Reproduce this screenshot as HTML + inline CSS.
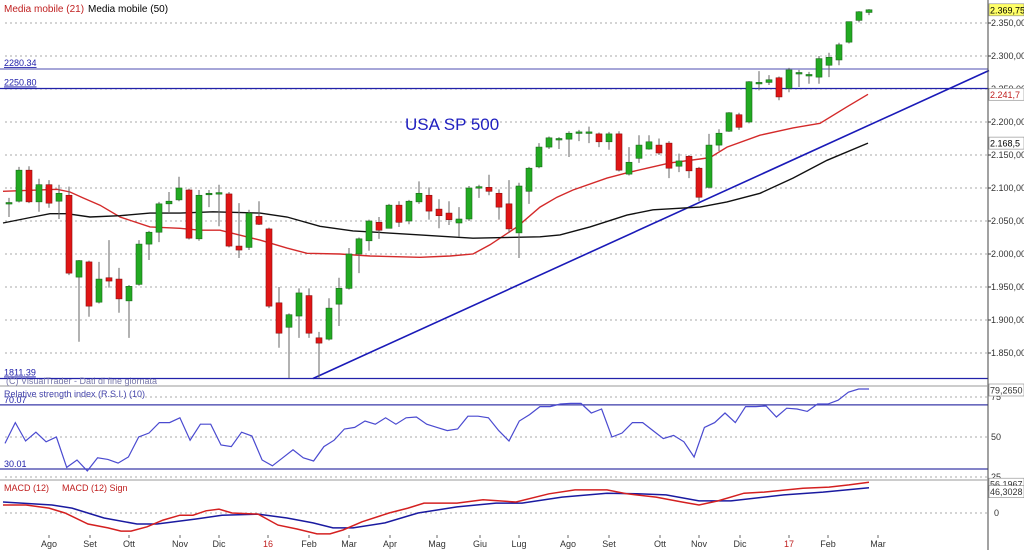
<!DOCTYPE html>
<html><head><meta charset="utf-8"><title>USA SP 500</title>
<style>
html,body{margin:0;padding:0;background:#fff;}
svg{display:block;font-family:"Liberation Sans",sans-serif;}
</style></head>
<body>
<svg id="chart" width="1024" height="550" viewBox="0 0 1024 550" xmlns="http://www.w3.org/2000/svg">
<rect x="0" y="0" width="1024" height="550" fill="#fff"/>
<g id="grid"></g>
<g id="levels"></g>
<g id="ma"></g>
<g id="candles"></g>
<g id="rsi"></g>
<g id="macd"></g>
<g id="axes"></g>
<text x="4" y="12" font-size="10" fill="#c02020">Media mobile (21)</text>
<text x="88" y="12" font-size="10" fill="#000">Media mobile (50)</text>
<text x="405" y="130" font-size="17" fill="#2020c0">USA SP 500</text>
<text x="6" y="384" font-size="9" fill="#7777aa">(C) VisualTrader - Dati di fine giornata</text>
<text x="4" y="397" font-size="9" fill="#4444aa">Relative strength index (R.S.I.) (10)</text>
<text x="4" y="491" font-size="9" fill="#c02020">MACD (12)</text>
<text x="62" y="491" font-size="9" fill="#c02020">MACD (12) Sign</text>
</svg>
<script>
const opens =[2077,2080,2127,2079,2105,2080,2089,1965,1988,1927,1964,1962,1929,1954,2015,2033,2076,2082,2097,2023,2091,2093,2091,2012,2010,2057,2038,1926,1889,1906,1937,1873,1871,1924,1948,2000,2020,2048,2039,2074,2050,2079,2089,2068,2062,2047,2053,2101,2101,2092,2076,2032,2095,2132,2162,2174,2174,2184,2184,2182,2170,2182,2121,2145,2159,2165,2168,2133,2148,2130,2101,2165,2186,2211,2200,2259,2260,2267,2251,2274,2271,2268,2286,2294,2321,2354,2366];
const highs =[2085,2132,2133,2114,2112,2105,2102,1991,1990,1988,2021,1979,1953,2021,2035,2079,2094,2117,2099,2097,2097,2105,2094,2077,2067,2080,2040,1950,1910,1948,1948,1882,1933,1964,2009,2025,2052,2056,2076,2080,2082,2110,2101,2083,2080,2071,2103,2105,2120,2098,2112,2108,2132,2168,2178,2177,2186,2188,2193,2184,2185,2186,2162,2180,2180,2175,2171,2152,2150,2132,2182,2189,2215,2214,2262,2277,2271,2269,2282,2279,2276,2300,2305,2320,2352,2368,2371];
const lows  =[2056,2078,2077,2064,2070,2053,1968,1867,1905,1925,1949,1911,1873,1952,1991,2018,2062,2080,2022,2020,2071,2042,2010,1994,2006,2044,1918,1858,1812,1873,1873,1812,1869,1891,1946,1971,2005,2023,2059,2041,2045,2076,2052,2039,2044,2026,2050,2085,2089,2052,2032,1994,2076,2130,2159,2159,2147,2171,2168,2162,2158,2125,2119,2138,2158,2150,2115,2124,2115,2080,2099,2156,2185,2188,2198,2248,2256,2233,2245,2253,2258,2258,2268,2286,2319,2351,2362];
const closes=[2078,2127,2079,2105,2077,2092,1971,1990,1921,1962,1959,1932,1951,2015,2033,2076,2080,2100,2024,2089,2092,2093,2012,2006,2062,2045,1921,1880,1908,1941,1880,1865,1918,1948,2000,2023,2050,2036,2074,2048,2080,2092,2065,2058,2052,2053,2100,2102,2095,2071,2038,2103,2130,2162,2176,2175,2183,2185,2185,2170,2182,2127,2139,2165,2170,2153,2130,2141,2126,2086,2165,2183,2214,2192,2261,2260,2264,2238,2279,2275,2272,2296,2298,2317,2352,2367,2370];
const ma21Idx=[-0.6,4.8,6.1,7.4,9.1,11.1,14.1,17.1,19.1,21.1,25.1,27.8,29.8,33.1,36.1,41.1,44.1,46.4,48.1,50.8,53.1,54.8,56.4,59.8,61.8,63.8,66.1,69.1,70.1,71.8,75.1,78.4,81.1,83.8,85.9];
const ma21Val=[2095,2098,2094,2085,2074,2056,2041,2039,2036,2036,2021,2009,2001,2000,1997,1995,1997,2000,2014,2041,2071,2086,2097,2115,2123,2130,2138,2144,2146,2162,2180,2191,2198,2223,2242];
const ma50Idx=[-0.6,2.4,4.1,5.8,8.1,11.1,14.1,17.1,20.4,25.1,27.8,31.1,34.4,37.8,41.1,44.1,46.4,53.1,55.1,58.1,61.8,64.4,69.1,71.8,75.1,78.4,81.8,85.9];
const ma50Val=[2047,2056,2061,2061,2056,2058,2062,2062,2064,2062,2056,2042,2035,2032,2029,2026,2024,2026,2029,2041,2059,2067,2071,2079,2092,2115,2142,2168];
const rsiVals=[46,59,47.5,53,47,50,31,35.6,28.8,37,36,33.7,37.5,50,52.5,59,59,62,48,58,58,45,44,53,50.6,35.6,32,37,42,37,35,44,48,55,56,60,58,62,58,62,62.5,58,56,54,55,63,63,62,54,47.5,60,64,69,69,70.6,71,71,65,67.5,50,52.5,59,59,54,49,51,47,37.5,56,59,65,59,69,69,69.4,62.5,68,67.5,66,70.6,70.6,73,78,80,80];
const macdIdx=[-0.6,1.7,4,5.6,7.9,9.9,11.2,12.2,13.8,15.4,17.1,18.4,19.7,21,22.3,24.9,26.9,28.8,30.8,32.1,33.4,35.3,38,39.9,41.5,44.8,47.4,50.7,54,56.6,59.8,61.8,64.7,67.3,69,70.9,73.5,75.5,79.4,82,84,86];
const macdVals=[14.5,14.5,9,0,-20,-27,-33,-33,-25,-13,-4,-4,4,7,0,-2,-22,-29,-38,-38,-31,-16,0,9,18,18,24,20,35,42,42,35,29,20,14.5,22,36,38,45,47,51,56];
const signIdx=[-0.6,4.3,6.3,9.5,12.8,14.8,18.7,21.3,24.9,27.8,30.4,32.4,34.4,37.6,40.9,44.8,48.7,51.3,55.3,59.8,62.8,65.7,69,72.2,77.5,81.4,86];
const signVals=[20,14.5,9,-9,-20,-20,-11,-4,-2,-9,-18,-27,-27,-18,0,11,18,18,29,36,35,33,22,22,33,38,46];
const priceTicks=[1850,1900,1950,2000,2050,2100,2150,2200,2250,2300,2350];
const priceTickLabels=["1.850,00","1.900,00","1.950,00","2.000,00","2.050,00","2.100,00","2.150,00","2.200,00","2.250,00","2.300,00","2.350,00"];
const levelVals=[2280.34,2250.80,1811.39];
const levelLabels=["2280.34","2250.80","1811.39"];
const trendIdx=[30.4,98];
const trendVals=[1811.39,2278];
const rsiTicks=[25,50,75];
const rsiBands=[70.07,30.01];
const months=["Ago","Set","Ott","Nov","Dic","16","Feb","Mar","Apr","Mag","Giu","Lug","Ago","Set","Ott","Nov","Dic","17","Feb","Mar"];
const monthIdx=[4,8.1,12,17.1,21,25.9,30,34,38.1,42.8,47.1,51,55.9,60,65.1,69,73.1,78,81.9,86.9];

const NS="http://www.w3.org/2000/svg";
const R=988;
const xOf=i=>9+10*i;
const yP=v=>23+(2350-v)*0.66;
const yR=v=>437-(v-50)*1.6;
const yM=v=>513-v*0.55;
function mk(parent,tag,attrs){const e=document.createElementNS(NS,tag);for(const k in attrs)e.setAttribute(k,attrs[k]);document.getElementById(parent).appendChild(e);return e;}

priceTicks.forEach((v,k)=>{
  const l=mk('grid','line',{x1:5,x2:R,y1:yP(v),y2:yP(v),stroke:'#aaa','stroke-dasharray':'2,3','stroke-width':1});
  
  
  const t=mk('axes','text',{x:R+3,y:yP(v)+3,'font-size':9,fill:'#333'});
  t.textContent=priceTickLabels[k];
  
  
  mk('axes','line',{x1:R,x2:R+3,y1:yP(v),y2:yP(v),stroke:'#333'});
});
levelVals.forEach((v,k)=>{
  const l=mk('levels','line',{x1:0,x2:R,y1:yP(v),y2:yP(v),stroke:k==0?'#8888cc':'#2222aa','stroke-width':k==0?1.5:1.3});
  
  
  const t=mk('levels','text',{x:4,y:yP(v)-3,'font-size':9,fill:'#2222aa','text-decoration':'underline'});
  t.textContent=levelLabels[k];
  
  
});
{const l=mk('levels','line',{x1:xOf(trendIdx[0]),y1:yP(trendVals[0]),x2:xOf(trendIdx[1]),y2:yP(trendVals[1]),stroke:'#1a1ab8','stroke-width':1.6});

}
function poly(parent,idx,vals,yf,color,name,w){
  const pts=idx.map((i,k)=>xOf(i).toFixed(1)+','+yf(vals[k]).toFixed(1)).join(' ');
  const p=mk(parent,'polyline',{points:pts,fill:'none',stroke:color,'stroke-width':w});
  
  
}
poly('ma',ma21Idx,ma21Val,yP,'#d42a2a','ma21-line',1.4);
poly('ma',ma50Idx,ma50Val,yP,'#111','ma50-line',1.4);
opens.forEach((o,i)=>{
  const c=closes[i],x=xOf(i),up=c>=o;
  const w=mk('candles','line',{x1:x,x2:x,y1:yP(highs[i]),y2:yP(lows[i]),stroke:'#666','stroke-width':1});
  
  
  const top=yP(Math.max(o,c)),h=Math.max(1.5,Math.abs(yP(o)-yP(c)));
  const b=mk('candles','rect',{x:x-3,y:top,width:6,height:h,fill:up?'#22aa22':'#e01515',stroke:up?'#1a6a1a':'#8a1010','stroke-width':0.6});
  
  
});
function box(y,txt,bg,fg,name){
  const r=mk('axes','rect',{x:R+1,y:y-6,width:35,height:12,fill:bg,stroke:'#888','stroke-width':0.6});
  
  
  const t=mk('axes','text',{x:R+2,y:y+3.5,'font-size':9,fill:fg});
  t.textContent=txt;
  
  
}
box(yP(closes[closes.length-1]),'2.369,75','#ffff66','#000','last-price-label');
box(yP(ma21Val[ma21Val.length-1]),'2.241,7','#fff','#c02020','ma21-value-label');
box(yP(ma50Val[ma50Val.length-1]),'2.168,5','#fff','#000','ma50-value-label');
mk('axes','line',{x1:R,x2:R,y1:0,y2:550,stroke:'#444'});
[386,480].forEach(y=>{const l=mk('axes','line',{x1:0,x2:R,y1:y,y2:y,stroke:'#999'});

});
rsiTicks.forEach(v=>{
  mk('rsi','line',{x1:5,x2:R,y1:yR(v),y2:yR(v),stroke:'#aaa','stroke-dasharray':'2,3'});
  const t=mk('axes','text',{x:R+3,y:yR(v)+3,'font-size':9,fill:'#333'});
  t.textContent=v;
  
  
});
rsiBands.forEach(v=>{
  const l=mk('rsi','line',{x1:0,x2:R,y1:yR(v),y2:yR(v),stroke:'#3a3aa8','stroke-width':1.2});
  
  
  const t=mk('rsi','text',{x:4,y:yR(v)-2,'font-size':9,fill:'#2222aa'});
  t.textContent=v.toFixed(2);
  
  
});
{const n=rsiVals.length;
const pts=rsiVals.map((v,k)=>(5+k*864/(n-1)).toFixed(1)+','+yR(v).toFixed(1)).join(' ');
const p=mk('rsi','polyline',{points:pts,fill:'none',stroke:'#4a4ad0','stroke-width':1.2});

}
box(yR(rsiVals[rsiVals.length-1])+1,'79,2650','#fff','#333','rsi-value-label');
mk('macd','line',{x1:5,x2:R,y1:yM(0),y2:yM(0),stroke:'#aaa','stroke-dasharray':'2,3'});
{const t=mk('axes','text',{x:R+6,y:yM(0)+3,'font-size':9,fill:'#333'});t.textContent='0';

}
poly('macd',signIdx,signVals,yM,'#1a1aa0','macd-signal-line',1.5);
poly('macd',macdIdx,macdVals,yM,'#d42020','macd-line',1.5);
box(yM(macdVals[macdVals.length-1])+2,'56,1967','#fff','#333','macd-value-label');
box(yM(signVals[signVals.length-1])+4,'46,3028','#fff','#333','macd-signal-value-label');
months.forEach((m,k)=>{
  const x=xOf(monthIdx[k]);
  mk('axes','line',{x1:x,x2:x,y1:535,y2:538,stroke:'#666'});
  const t=mk('axes','text',{x:x,y:547,'font-size':9,fill:(m==='16'||m==='17')?'#c02020':'#333','text-anchor':'middle'});
  t.textContent=m;
  
  
});
</script>
</body></html>
